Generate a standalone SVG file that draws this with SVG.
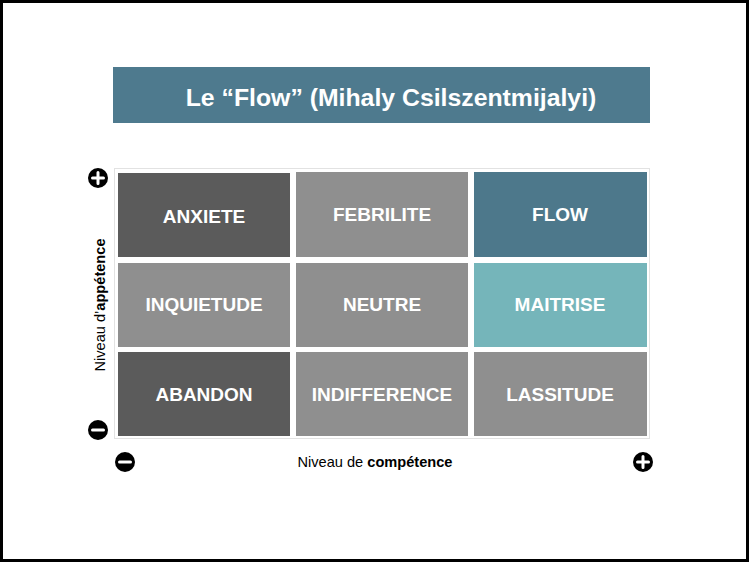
<svg xmlns="http://www.w3.org/2000/svg" width="750" height="563" viewBox="0 0 750 563">
<style>
.cell text{font-family:"Liberation Sans",Arial,sans-serif;font-weight:bold;font-size:19px;fill:#fff;text-anchor:middle}
.dark{fill:#5b5b5b}
.mid{fill:#8f8f8f}
.flow{fill:#4d788b}
.mait{fill:#75b5ba}
.axis{font-family:"Liberation Sans",Arial,sans-serif;font-size:14.6px;fill:#000;text-anchor:middle}
.ic circle{fill:#000}
.ic path{stroke:#fff;stroke-width:3;stroke-linecap:round;fill:none}
</style>
<rect x="0" y="0" width="750" height="563" fill="#fff"/>
<rect x="1.5" y="1.5" width="746" height="559" fill="none" stroke="#000" stroke-width="3"/>
<g id="title">
<rect x="113" y="67" width="537" height="56" fill="#4e7a8e"/>
<text x="391" y="106" font-family="Liberation Sans,Arial,sans-serif" font-weight="bold" font-size="24.8" fill="#fff" text-anchor="middle">Le “Flow” (Mihaly Csilszentmijalyi)</text>
</g>
<rect x="114.5" y="168.5" width="535" height="270" fill="#fff" stroke="#e2e2e2" stroke-width="1"/>
<g id="anxiete" class="cell"><rect class="dark" x="118" y="173" width="172" height="84"/><text x="204" y="223">ANXIETE</text></g>
<g id="febrilite" class="cell"><rect class="mid" x="296" y="172" width="172" height="85"/><text x="382" y="221">FEBRILITE</text></g>
<g id="flow" class="cell"><rect class="flow" x="474" y="172" width="173" height="85"/><text x="560" y="221">FLOW</text></g>
<g id="inquietude" class="cell"><rect class="mid" x="118" y="263" width="172" height="84"/><text x="204" y="311">INQUIETUDE</text></g>
<g id="neutre" class="cell"><rect class="mid" x="296" y="263" width="172" height="84"/><text x="382" y="311">NEUTRE</text></g>
<g id="maitrise" class="cell"><rect class="mait" x="474" y="263" width="173" height="84"/><text x="560" y="311">MAITRISE</text></g>
<g id="abandon" class="cell"><rect class="dark" x="118" y="352" width="172" height="84"/><text x="204" y="401">ABANDON</text></g>
<g id="indifference" class="cell"><rect class="mid" x="296" y="352" width="172" height="84"/><text x="382" y="401">INDIFFERENCE</text></g>
<g id="lassitude" class="cell"><rect class="mid" x="474" y="352" width="173" height="84"/><text x="560" y="401">LASSITUDE</text></g>
<g id="connectors"></g>
<g id="icons" class="ic">
<g id="plus-y"><circle cx="98" cy="178" r="10"/><path d="M92.5 178h11M98 172.5v11"/></g>
<g id="minus-y"><circle cx="98" cy="430" r="10"/><path d="M92.5 430h11"/></g>
<g id="minus-x"><circle cx="125" cy="462" r="10"/><path d="M119.5 462h11"/></g>
<g id="plus-x"><circle cx="643" cy="462" r="10"/><path d="M637.5 462h11M643 456.5v11"/></g>
</g>
<g id="ylabel"><text class="axis" transform="translate(105 305) rotate(-90)">Niveau d’<tspan font-weight="bold">appétence</tspan></text></g>
<g id="xlabel"><text class="axis" x="375" y="467">Niveau de <tspan font-weight="bold">compétence</tspan></text></g>
</svg>
